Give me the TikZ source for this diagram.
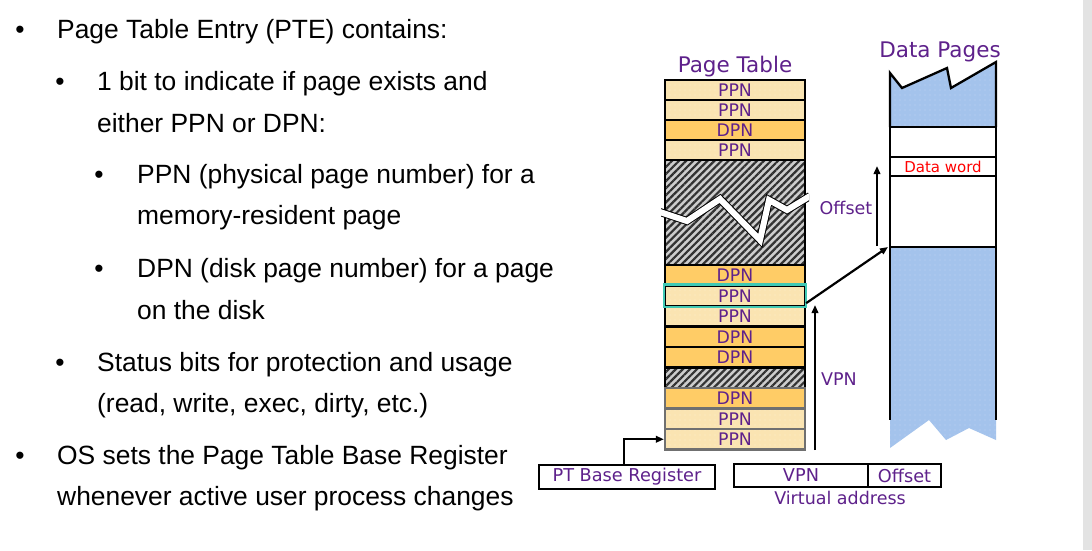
\documentclass[tikz,border=0pt]{standalone}
\usepackage{fontspec}
\setmainfont{Liberation Sans}
\newfontfamily\dv{DejaVu Sans}
\usetikzlibrary{patterns,patterns.meta,arrows.meta}
\definecolor{pur}{RGB}{94,33,139}
\definecolor{ppnc}{RGB}{250,228,178}
\definecolor{ppndot}{RGB}{253,238,205}
\definecolor{dpnc}{RGB}{255,204,102}
\definecolor{tealc}{RGB}{64,200,180}
\definecolor{bluec}{RGB}{164,195,236}
\definecolor{bluedot}{RGB}{192,212,242}
\definecolor{hatchbg}{RGB}{205,205,205}
\definecolor{hatchfg}{RGB}{50,50,50}
\definecolor{grayb}{RGB}{112,112,112}
\definecolor{strip}{RGB}{227,227,227}
\begin{document}
\begin{tikzpicture}[x=1pt,y=-1pt,
  txt/.style={anchor=base west,inner sep=0pt,font=\fontsize{26.4}{30}\selectfont},
  bul/.style={anchor=base,inner sep=0pt,font=\fontsize{26.4}{30}\selectfont},
  cellbase/.style={draw=black,line width=2.3pt,minimum width=140pt,minimum height=20.5pt,inner sep=0pt,text=pur,font=\dv\fontsize{17.3}{18}\selectfont},
  ppn/.style={cellbase,preaction={fill=ppnc},pattern={Dots[distance=5pt,radius=0.6pt]},pattern color=ppndot},
  dpn/.style={cellbase,fill=dpnc},
  lbl/.style={anchor=base,inner sep=0pt,text=pur,font=\dv\fontsize{17.5}{20}\selectfont},
  ttl/.style={anchor=base,inner sep=0pt,text=pur,font=\dv\fontsize{21.5}{24}\selectfont},
  hatchbox/.style={draw=black,line width=2.3pt,preaction={fill=hatchbg},pattern={Lines[angle=45,distance=5pt,line width=2.2pt]},pattern color=hatchfg},
  bluefill/.style={preaction={fill=bluec},pattern={Dots[distance=5pt,radius=0.6pt]},pattern color=bluedot},
  arr/.style={line width=2.2pt,-{Triangle[length=8pt,width=6.5pt]}},
  regbox/.style={draw=black,line width=2.3pt,inner sep=0pt,text=pur,font=\dv\fontsize{17.7}{20}\selectfont}
]
\useasboundingbox (0,0) rectangle (1092,550);
\fill[white] (0,0) rectangle (1092,550);
\fill[strip] (1083,0) rectangle (1092,550);

% ---- bullet text ----
\node[bul] (b1) at (20,38) {•};
\node[txt] (t1) at (57,38) {Page Table Entry (PTE) contains:};
\node[bul] (b2) at (60,90) {•};
\node[txt] (t2) at (97,90) {1 bit to indicate if page exists and};
\node[txt] (t3) at (97,132) {either PPN or DPN:};
\node[bul] (b3) at (99,183) {•};
\node[txt] (t4) at (137,183) {PPN (physical page number) for a};
\node[txt] (t5) at (137,224) {memory-resident page};
\node[bul] (b4) at (99,277) {•};
\node[txt] (t6) at (137,277) {DPN (disk page number) for a page};
\node[txt] (t7) at (137,319) {on the disk};
\node[bul] (b5) at (60,371) {•};
\node[txt] (t8) at (97,371) {Status bits for protection and usage};
\node[txt] (t9) at (97,412) {(read, write, exec, dirty, etc.)};
\node[bul] (b6) at (20,464) {•};
\node[txt] (t10) at (57,464) {OS sets the Page Table Base Register};
\node[txt] (t11) at (57,505) {whenever active user process changes};

% ---- page table ----
\node[ttl] (ptt) at (735,72) {Page Table};
\draw[hatchbox] (665,160) rectangle (805,265);
\begin{scope}
  \clip (661,160) rectangle (809,265);
  \draw[line width=1pt,double=white,double distance=6pt,miter limit=3]
    (660,212) -- (687,221) -- (720,199) -- (760,240) -- (769,200) -- (787,210) -- (810,196);
\end{scope}
\draw[hatchbox] (665,367.5) rectangle (805,388);

\node[ppn] (r1) at (735,90) {PPN};
\node[ppn] (r2) at (735,110) {PPN};
\node[dpn] (r3) at (735,130) {DPN};
\node[ppn] (r4) at (735,150) {PPN};

\node[dpn] (r5) at (735,275.25) {DPN};
\node[ppn] (r7) at (735,316.25) {PPN};
\node[dpn] (r8) at (735,336.75) {DPN};
\node[dpn] (r9) at (735,357.25) {DPN};
\node[ppn] (r6) at (735,295.75) {PPN};
\draw[draw=tealc,line width=2.3pt] (r6.south west) rectangle (r6.north east);

\node[dpn,draw=grayb] (r10) at (735,398.25) {DPN};
\node[ppn,draw=grayb] (r11) at (735,418.75) {PPN};
\node[ppn,draw=grayb] (r12) at (735,439.25) {PPN};

% ---- data pages ----
\node[ttl] (dpt) at (940,57) {Data Pages};
\fill[bluefill] (890,73) -- (902,88) -- (947,68) -- (951,88) -- (996,62) -- (996,127) -- (890,127) -- cycle;
\fill[bluefill] (890,247) -- (996,247) -- (996,440) -- (969,428) -- (946,440) -- (929,420) -- (890,448) -- cycle;
\draw[line width=2.3pt] (890,127) -- (890,73) -- (902,88) -- (947,68) -- (951,88) -- (996,62) -- (996,127);
\draw[line width=2.3pt] (890,127) -- (890,420);
\draw[line width=2.3pt] (996,127) -- (996,420);
\draw[line width=2.3pt] (890,127) -- (996,127);
\draw[line width=2.3pt] (890,247) -- (996,247);
\node[draw=black,line width=2.3pt,minimum width=106pt,minimum height=19pt,inner sep=0pt,text=red,font=\dv\fontsize{15}{16}\selectfont] (dw) at (943,166.5) {Data word};

% ---- labels ----
\node[lbl] (offl) at (846,214) {Offset};
\node[lbl] (vpnl) at (839,385) {VPN};

% ---- registers ----
\node[regbox,minimum width=176pt,minimum height=24pt] (ptbr) at (627,477) {PT Base Register};
\node[regbox,minimum width=134pt,minimum height=23pt] (vpn) at (801,475.5) {VPN};
\node[regbox,minimum width=73pt,minimum height=23pt] (off) at (904.5,475.5) {Offset};
\node[lbl] (va) at (840,504) {Virtual address};

% ---- connectors ----
\coordinate (vb) at (815,450);
\coordinate (vt) at (815,305);
\coordinate (dpin) at (888,247);
\coordinate (ob) at (877,246);
\coordinate (ot) at (877,166);
\draw[arr] ([xshift=-3pt]ptbr.north) |- (r12.west);
\draw[arr] (vb) -- (vt);
\draw[arr] ([yshift=4pt]r6.south east) -- (dpin);
\draw[arr] (ob) -- (ot);
\end{tikzpicture}
\end{document}
